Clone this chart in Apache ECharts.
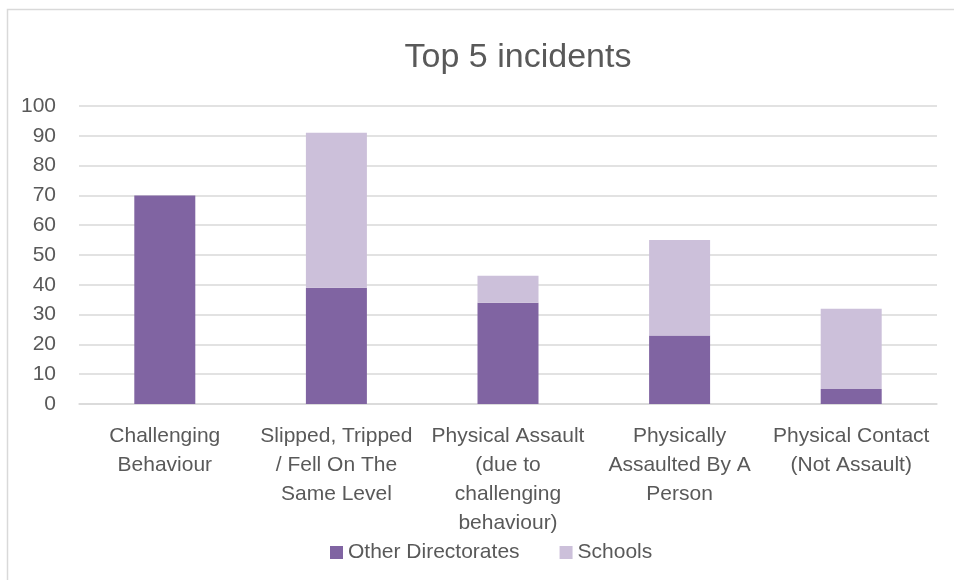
<!DOCTYPE html>
<html>
<head>
<meta charset="utf-8">
<script src="https://cdn.jsdelivr.net/npm/echarts@6/dist/echarts.min.js"></script>
<style>html,body{margin:0;padding:0;background:#fff}#c{width:954px;height:580px}</style>
</head>
<body>
<div id="c"></div>
<script>
const categories = [
  "Challenging\nBehaviour",
  "Slipped, Tripped\n/ Fell On The\nSame Level",
  "Physical Assault\n(due to\nchallenging\nbehaviour)",
  "Physically\nAssaulted By A\nPerson",
  "Physical Contact\n(Not Assault)"
];
const otherDirectorates = [70, 39, 34, 23, 5];
const schools = [0, 52, 9, 32, 27];
const yTicks = { min: 0, max: 100, interval: 10 };

const FONT = "Liberation Sans";
const TXT = "#595959";
const chart = echarts.init(document.getElementById('c'), null, { renderer: 'canvas' });
chart.setOption({
  animation: false,
  backgroundColor: '#fff',
  title: {
    text: 'Top 5 incidents',
    left: 513, top: 36, textAlign: 'center',
    textStyle: { fontFamily: FONT, fontSize: 34, fontWeight: 'normal', color: TXT }
  },
  graphic: [{
    type: 'rect', shape: { x: 7.5, y: 9.5, width: 1200, height: 1200 },
    style: { fill: 'none', stroke: '#D9D9D9', lineWidth: 1.5 }, silent: true, z: -1
  }],
  legend: {
    left: 325, top: 537, itemWidth: 13, itemHeight: 13, itemGap: 40,
    icon: 'rect',
    textStyle: { fontFamily: FONT, fontSize: 21, color: TXT },
    data: ['Other Directorates', 'Schools']
  },
  grid: { left: 79, right: 17, top: 106, bottom: 176, containLabel: false },
  xAxis: {
    type: 'category', data: categories,
    axisLine: { lineStyle: { color: '#D9D9D9', width: 1.5 } },
    axisTick: { show: false },
    axisLabel: { interval: 0, fontFamily: FONT, fontSize: 21, color: TXT, lineHeight: 29, margin: 18 }
  },
  yAxis: {
    type: 'value', min: yTicks.min, max: yTicks.max, interval: yTicks.interval,
    axisLine: { show: false }, axisTick: { show: false },
    axisLabel: { fontFamily: FONT, fontSize: 21, color: TXT, margin: 23 },
    splitLine: { lineStyle: { color: '#D9D9D9', width: 1.5 } }
  },
  series: [
    { name: 'Other Directorates', type: 'bar', stack: 's', data: otherDirectorates, barWidth: 61, itemStyle: { color: '#8064A2' } },
    { name: 'Schools', type: 'bar', stack: 's', data: schools, barWidth: 61, itemStyle: { color: '#CCC0DA' } }
  ]
});
</script>
</body>
</html>
